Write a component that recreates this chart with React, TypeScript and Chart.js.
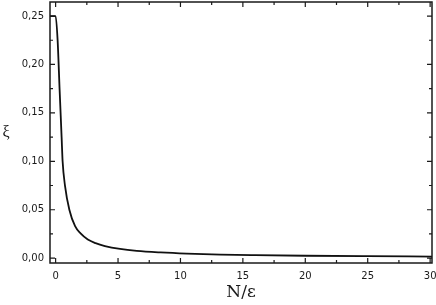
import React, { useEffect, useRef } from "react";
import { Chart, registerables } from "chart.js";

Chart.register(...registerables);

const xValues = [-0.45, 0, 0.16, 0.32, 0.48, 0.56, 0.75, 1.1, 1.56, 2.0, 2.58, 3.2, 3.95, 5.16, 6.5, 8.4, 10.5, 13.2, 16, 20, 25, 30.15];
const xiValues = [0.25, 0.25, 0.225, 0.174, 0.125, 0.1, 0.075, 0.05, 0.033, 0.0255, 0.0192, 0.0155, 0.0125, 0.0095, 0.0075, 0.0059, 0.0047, 0.0037, 0.0031, 0.0025, 0.002, 0.0016];
const xTicks = [0, 5, 10, 15, 20, 25, 30];
const xMinorTicks = [2.5, 7.5, 12.5, 17.5, 22.5, 27.5];
const yTicks = [0, 0.05, 0.1, 0.15, 0.2, 0.25];
const yMinorTicks = [0.025, 0.075, 0.125, 0.175, 0.225];

const framePlugin = {
  id: "frame",
  afterDatasetsDraw(chart: any) {
    const { ctx, chartArea, scales } = chart;
    const { left, right, top, bottom } = chartArea;
    ctx.save();
    ctx.strokeStyle = "#1a1a1a";
    ctx.lineWidth = 1.5;
    ctx.strokeRect(left, top, right - left, bottom - top);
    ctx.lineWidth = 1.2;
    const drawX = (vals: number[], len: number) => {
      vals.forEach((v) => {
        const px = scales.x.getPixelForValue(v);
        ctx.beginPath();
        ctx.moveTo(px, bottom);
        ctx.lineTo(px, bottom - len);
        ctx.moveTo(px, top);
        ctx.lineTo(px, top + len);
        ctx.stroke();
      });
    };
    const drawY = (vals: number[], len: number) => {
      vals.forEach((v) => {
        const py = scales.y.getPixelForValue(v);
        ctx.beginPath();
        ctx.moveTo(left, py);
        ctx.lineTo(left + len, py);
        ctx.moveTo(right, py);
        ctx.lineTo(right - len, py);
        ctx.stroke();
      });
    };
    drawX(xTicks, 5);
    drawX(xMinorTicks, 3);
    drawY(yTicks, 5);
    drawY(yMinorTicks, 3);
    // upright y-axis title
    ctx.fillStyle = "#1a1a1a";
    ctx.font = "16px 'Liberation Serif'";
    ctx.textAlign = "center";
    ctx.textBaseline = "middle";
    ctx.fillText("ξ", 6, (top + bottom) / 2);
    ctx.restore();
  },
};

export default function App() {
  const ref = useRef<HTMLCanvasElement>(null);
  useEffect(() => {
    if (!ref.current) return;
    const chart = new Chart(ref.current, {
      type: "line",
      data: {
        datasets: [
          {
            data: xValues.map((x, i) => ({ x, y: xiValues[i] })),
            borderColor: "#111",
            borderWidth: 1.8,
            pointRadius: 0,
            cubicInterpolationMode: "monotone",
            fill: false,
          },
        ],
      },
      options: {
        responsive: false,
        animation: false,
        events: [],
        layout: { padding: { top: 2, right: 4, left: 0, bottom: 0 } },
        plugins: { legend: { display: false }, tooltip: { enabled: false } },
        scales: {
          x: {
            type: "linear",
            min: -0.45,
            max: 30.15,
            afterFit: (s: any) => {
              s.height = 42;
              s.paddingLeft = 0;
              s.paddingRight = 0;
            },
            afterBuildTicks: (s: any) => {
              s.ticks = xTicks.map((v) => ({ value: v }));
            },
            grid: { display: false, drawTicks: false },
            border: { display: false },
            ticks: {
              padding: 7,
              color: "#1a1a1a",
              font: { family: "DejaVu Sans", size: 10 },
              callback: (v: any) => String(v),
              maxRotation: 0,
            },
            title: {
              display: true,
              text: "N/ε",
              color: "#1a1a1a",
              font: { family: "DejaVu Serif", size: 17 },
              padding: { top: 0, bottom: 2 },
            },
          },
          y: {
            type: "linear",
            min: -0.005,
            max: 0.2645,
            afterFit: (s: any) => {
              s.width = 50;
              s.paddingTop = 0;
              s.paddingBottom = 0;
            },
            afterBuildTicks: (s: any) => {
              s.ticks = yTicks.map((v) => ({ value: v }));
            },
            grid: { display: false, drawTicks: false },
            border: { display: false },
            ticks: {
              padding: 6,
              color: "#1a1a1a",
              font: { family: "DejaVu Sans", size: 10 },
              callback: (v: any) => Number(v).toFixed(2).replace(".", ","),
            },
          },
        },
      },
      plugins: [framePlugin],
    });
    return () => chart.destroy();
  }, []);
  return (
    <div style={{ position: "fixed", left: 0, top: 0, width: 436, height: 305, background: "#fff" }}>
      <canvas ref={ref} width={436} height={305} style={{ display: "block" }} />
    </div>
  );
}
